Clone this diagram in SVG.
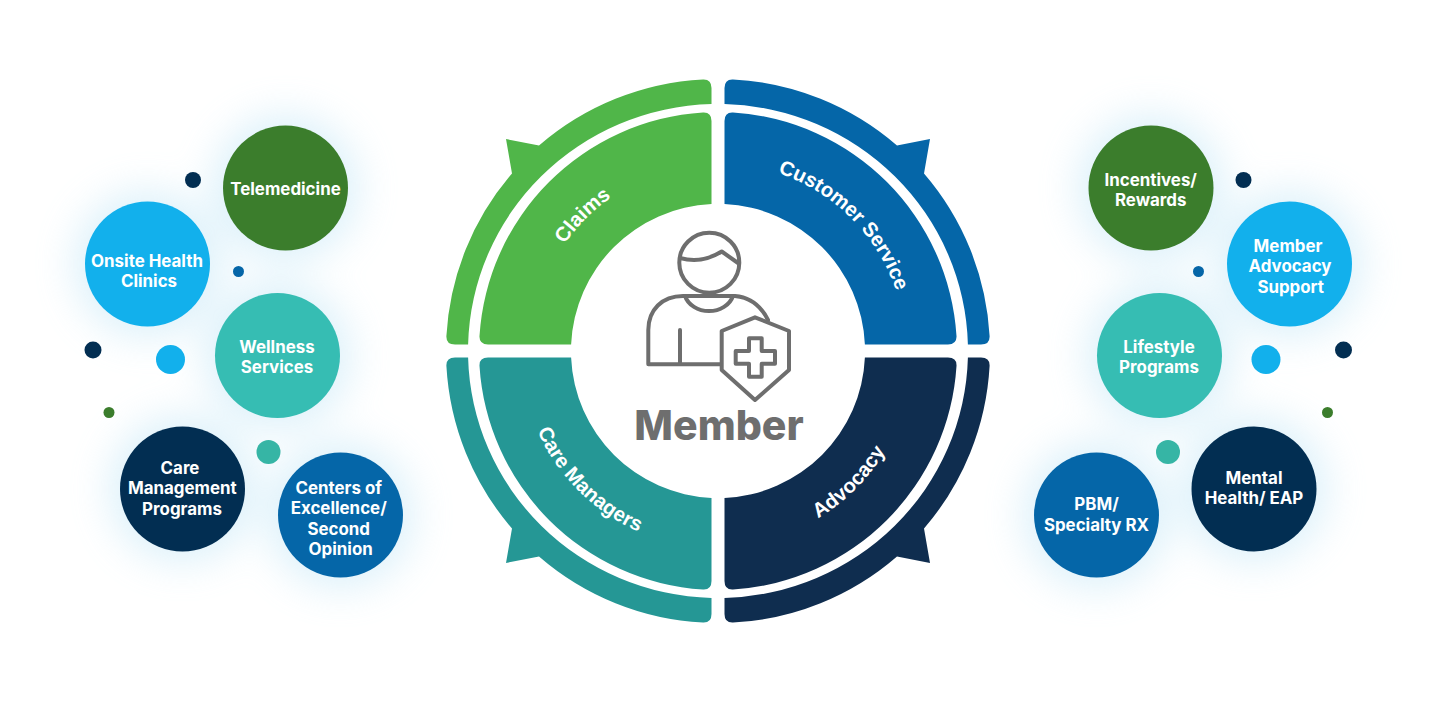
<svg xmlns="http://www.w3.org/2000/svg" xmlns:xlink="http://www.w3.org/1999/xlink" width="1438" height="704" viewBox="0 0 1438 704">
<style>
.b{font-family:Inter,"Liberation Sans",sans-serif;font-weight:700;font-size:16.9px;fill:#fff;text-anchor:middle}
.a{font-family:"Liberation Sans",Arial,sans-serif;font-weight:700;font-size:20.4px;fill:#fff;text-anchor:middle}
.i{fill:none;stroke:#6e6e6e;stroke-width:4;stroke-linecap:round;stroke-linejoin:round}
</style>
<defs>
<filter id="g" x="-80%" y="-80%" width="260%" height="260%"><feGaussianBlur stdDeviation="20"/></filter>
<path id="ring" d="M-15-271.600Q-6.500-272-6.500-263V-247A250 247 0 0 0-249.900-6.500H-263Q-272-6.500-271.600-15A272 272 0 0 1-206-177.500L-212-212L-179-205.500A272 272 0 0 1-15-271.600Z"/>
<path id="sector" d="M-15-238.500Q-6.500-239-6.500-230V-146.900A147 147 0 0 0-146.900-6.500H-230Q-239-6.500-238.500-15A239 239 0 0 1-15-238.500Z"/>
<path id="pClaims" d="M-187 0A187 187 0 0 1 0-187"/>
<path id="pCustomer" d="M0-188A188 188 0 0 1 188 0"/>
<path id="pCare" d="M-197.500 0A197.500 197.500 0 0 0 0 197.500"/>
<path id="pAdvocacy" d="M0 195A195 195 0 0 0 195 0"/>
</defs>
<rect width="1438" height="704" fill="#fff"/>
<g id="glows" filter="url(#g)" fill="#a9dcf3" opacity=".42">
<circle cx="285.500" cy="188" r="72"/><circle cx="147.500" cy="264" r="72"/><circle cx="277.500" cy="355.500" r="72"/><circle cx="182.500" cy="489" r="72"/><circle cx="340.500" cy="515" r="72"/>
<circle cx="1151" cy="188" r="72"/><circle cx="1289.500" cy="264" r="72"/><circle cx="1159.500" cy="355.500" r="72"/><circle cx="1254" cy="489" r="72"/><circle cx="1096.500" cy="515" r="72"/>
</g>
<g id="connectors"/>
<g id="wheel" transform="translate(718 351)">
<g id="quad-claims" fill="#50b649"><use xlink:href="#ring" href="#ring"/><use xlink:href="#sector" href="#sector"/></g>
<g id="quad-customer" fill="#0566a8" transform="scale(-1 1)"><use xlink:href="#ring" href="#ring"/><use xlink:href="#sector" href="#sector"/></g>
<g id="quad-care" fill="#259795" transform="scale(1 -1)"><use xlink:href="#ring" href="#ring"/><use xlink:href="#sector" href="#sector"/></g>
<g id="quad-advocacy" fill="#0f2d4f" transform="scale(-1 -1)"><use xlink:href="#ring" href="#ring"/><use xlink:href="#sector" href="#sector"/></g>
<text class="a"><textPath xlink:href="#pClaims" href="#pClaims" startOffset="50%">Claims</textPath></text>
<text class="a"><textPath xlink:href="#pCustomer" href="#pCustomer" startOffset="50%">Customer Service</textPath></text>
<text class="a"><textPath xlink:href="#pCare" href="#pCare" startOffset="50%">Care Managers</textPath></text>
<text class="a"><textPath xlink:href="#pAdvocacy" href="#pAdvocacy" startOffset="50%">Advocacy</textPath></text>
</g>
<g id="member">
<circle class="i" cx="709.300" cy="262.700" r="30"/>
<path class="i" d="M680 258Q702 264 721.700 251.500L738 263"/>
<path class="i" d="M720 364.300H648.300V330C648.300 310 662 296 683 296H735Q757 298 768 320"/>
<path class="i" d="M685 296A25 21 0 0 0 733 296"/>
<path class="i" d="M680 364V330"/>
<path class="i" d="M755 317.300L789 331V370L755 400L721.700 370V331Z"/>
<path class="i" d="M749 338.300H761.700V351H775V363.700H761.700V376.700H749V363.700H735.700V351H749Z"/>
<text x="719" y="440" style="font-family:Inter,'Liberation Sans',sans-serif;font-weight:800;font-size:41px;fill:#6e6e6e;text-anchor:middle">Member</text>
</g>
<g id="n1"><circle cx="285.500" cy="188" r="62.500" fill="#3b7d2c"/><text class="b" x="285.500" y="194.500">Telemedicine</text></g>
<g id="n2"><circle cx="147.500" cy="264" r="62.500" fill="#12b0ec"/><text class="b" x="147" y="266.500">Onsite Health</text><text class="b" x="149" y="287">Clinics</text></g>
<g id="n3"><circle cx="277.500" cy="355.500" r="62.500" fill="#36bdb3"/><text class="b" x="277" y="352.500">Wellness</text><text class="b" x="277" y="373">Services</text></g>
<g id="n4"><circle cx="182.500" cy="489" r="62.500" fill="#022e52"/><text class="b" x="180" y="473.500">Care</text><text class="b" x="182.300" y="494">Management</text><text class="b" x="182" y="514.500">Programs</text></g>
<g id="n5"><circle cx="340.500" cy="515" r="62.500" fill="#0566a8"/><text class="b" x="338.700" y="493.500">Centers of</text><text class="b" x="338.700" y="514">Excellence/</text><text class="b" x="338.700" y="534.500">Second</text><text class="b" x="340.700" y="554.500">Opinion</text></g>
<g id="n6"><circle cx="1151" cy="188" r="62.500" fill="#3b7d2c"/><text class="b" x="1150.700" y="185.500">Incentives/</text><text class="b" x="1150.700" y="206">Rewards</text></g>
<g id="n7"><circle cx="1289.500" cy="264" r="62.500" fill="#12b0ec"/><text class="b" x="1288" y="251.500">Member</text><text class="b" x="1290" y="272.300">Advocacy</text><text class="b" x="1290.700" y="292.600">Support</text></g>
<g id="n8"><circle cx="1159.500" cy="355.500" r="62.500" fill="#36bdb3"/><text class="b" x="1159" y="352.500">Lifestyle</text><text class="b" x="1159" y="373">Programs</text></g>
<g id="n9"><circle cx="1254" cy="489" r="62.500" fill="#022e52"/><text class="b" x="1254" y="483.500">Mental</text><text class="b" x="1254" y="504">Health/ EAP</text></g>
<g id="n10"><circle cx="1096.500" cy="515" r="62.500" fill="#0566a8"/><text class="b" x="1096.500" y="510">PBM/</text><text class="b" x="1096.500" y="530.500">Specialty RX</text></g>
<g id="dots">
<circle cx="193" cy="180" r="8" fill="#022e52"/><circle cx="238.500" cy="271.500" r="5.500" fill="#0566a8"/><circle cx="93" cy="350" r="8.500" fill="#022e52"/><circle cx="170.500" cy="359.500" r="14.500" fill="#12b0ec"/><circle cx="109" cy="412.500" r="5.500" fill="#3b7d2c"/><circle cx="268.500" cy="452" r="12" fill="#36b5a5"/>
<circle cx="1243.500" cy="180" r="8" fill="#022e52"/><circle cx="1198.500" cy="271.500" r="5.500" fill="#0566a8"/><circle cx="1343.500" cy="350" r="8.500" fill="#022e52"/><circle cx="1266" cy="359.500" r="14.500" fill="#12b0ec"/><circle cx="1327.500" cy="412.500" r="5.500" fill="#3b7d2c"/><circle cx="1168" cy="452" r="12" fill="#36b5a5"/>
</g>
</svg>
